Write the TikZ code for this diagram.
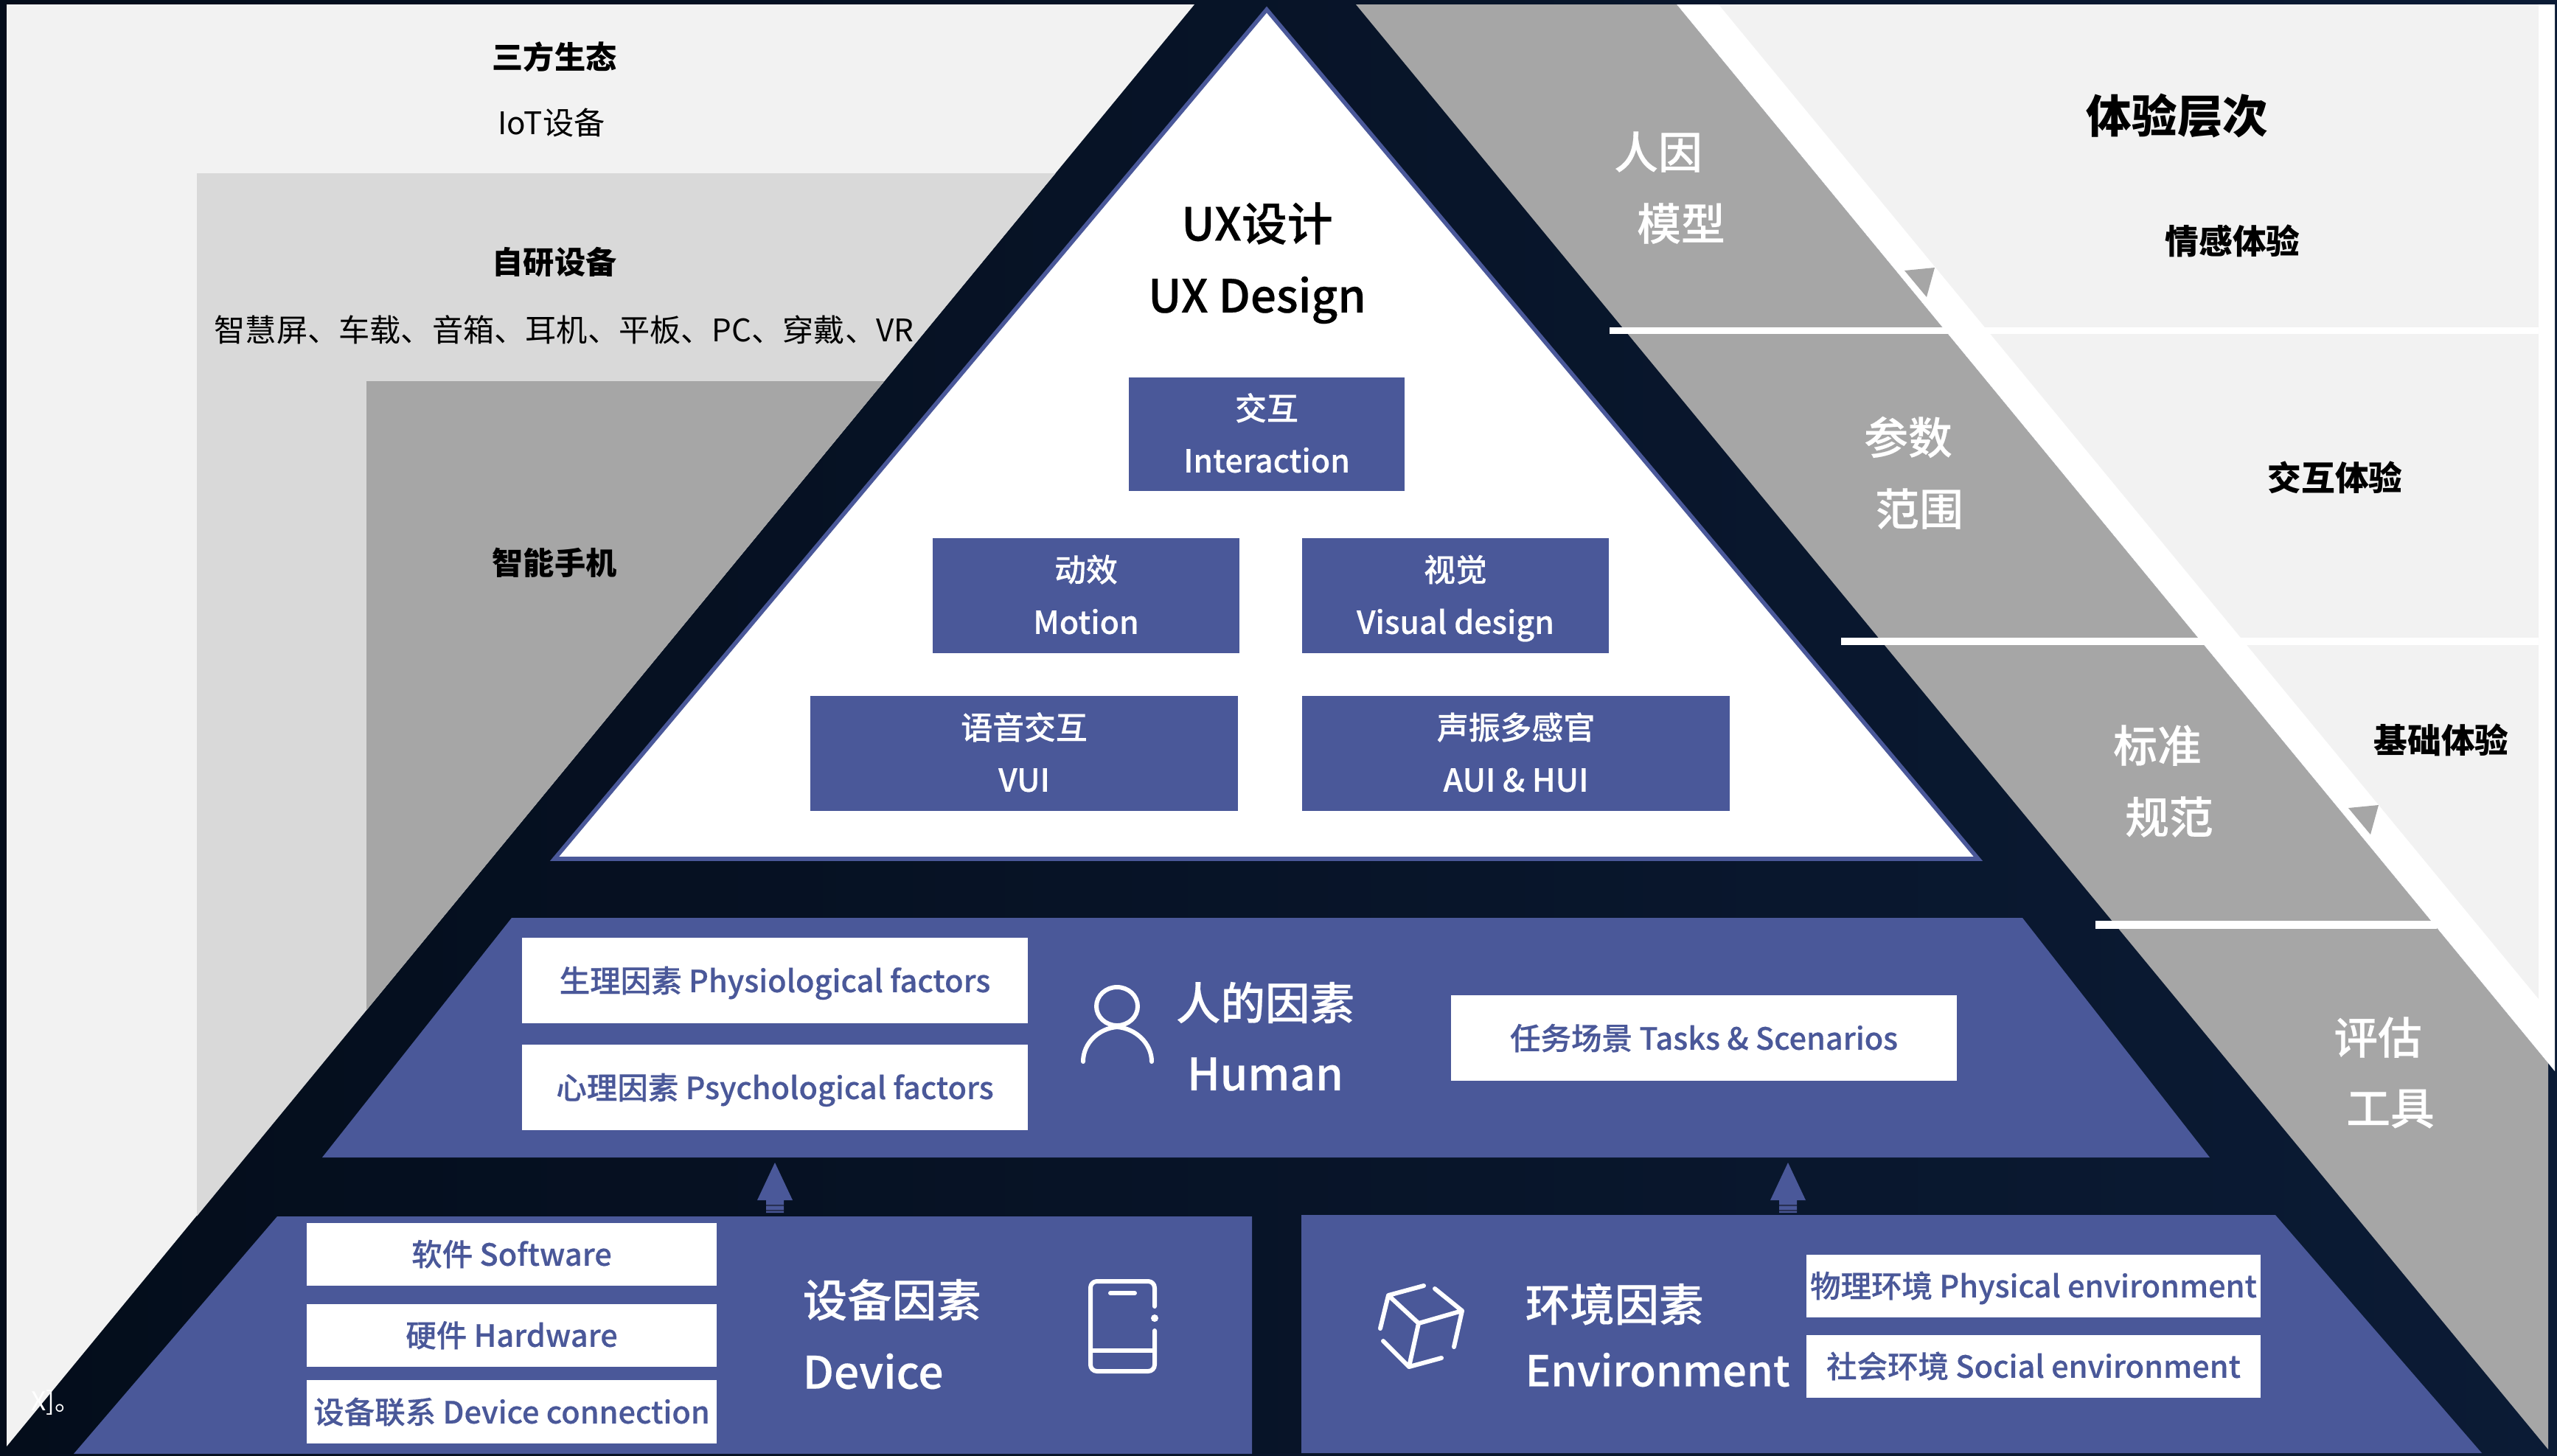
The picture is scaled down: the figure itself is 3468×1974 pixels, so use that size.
\documentclass[tikz,border=0pt]{standalone}
\usepackage{fontspec}
\setmainfont{Noto Sans CJK SC}
\newfontfamily\mediumfont{Noto Sans CJK SC}[UprightFont=* Medium, FakeBold=0.35]
\usetikzlibrary{
    calc
}
\definecolor{uxblue}{RGB}{74,88,153}
\definecolor{paneldark}{RGB}{166,166,166}
\definecolor{panelmid}{RGB}{217,217,217}
\definecolor{panellight}{RGB}{242,242,242}
\definecolor{navyleft}{RGB}{4,13,27}
\definecolor{navyright}{RGB}{11,27,53}
\newcommand{\twolines}[2]{\strut\raisebox{-0.6pt}{#1}\\\strut\raisebox{-0.6pt}{#2}}
\tikzset{
    % Box styles
    ux box/.style={
        fill=uxblue,
        text=white,
        rectangle,
        align=center,
        inner sep=0pt,
        font=\fontsize{12.2}{20.2}\selectfont\mediumfont
    },
    factor box/.style={
        fill=white,
        text=uxblue,
        rectangle,
        inner sep=0pt,
        text height=11pt,
        text depth=2pt,
        font=\fontsize{11.8}{15}\selectfont\mediumfont
    },
    % Text styles
    plain label/.style={
        inner sep=0pt,
        font=\fontsize{12}{15}\selectfont
    },
    bold label/.style={
        inner sep=0pt,
        font=\fontsize{12}{15}\selectfont\bfseries
    },
    level label/.style={
        inner sep=0pt,
        font=\fontsize{13}{15}\selectfont\bfseries
    },
    big label/.style={
        inner sep=0pt,
        text=white,
        font=\fontsize{17.2}{15}\selectfont\mediumfont
    },
    band label/.style={
        inner sep=0pt,
        text=white,
        font=\fontsize{17}{15}\selectfont\mediumfont
    },
    % Icon styles
    icon line/.style={
        draw=white,
        line width=1.7pt,
        line cap=round,
        line join=round
    },
    block arrow/.pic={
        \fill[uxblue] (0,-68) -- (24,-17) -- (12,-17) -- (12,0) -- (-12,0) -- (-12,-17) -- (-24,-17) -- cycle;
        \fill[black, opacity=0.45] (-12,-11) rectangle (12,-9) (-12,-4) rectangle (12,-2);
    },
    band arrow/.pic={
        \fill[paneldark] (0,0) -- (41,-4) -- (30,36) -- cycle;
        \draw[white, line width=0.3pt] (1,13) -- (18,32) (5,10) -- (22,28);
    }
}
\begin{document}
\begin{tikzpicture}[x=0.01cm, y=-0.01cm]
        \useasboundingbox (0,0) rectangle (3468,1974);
        % Panels
        \shade[left color=navyleft, right color=navyright] (0,0) rectangle (3468,1974);
        \fill[panellight] (9,6) -- (1620,6) -- (9,1962) -- cycle;
        \begin{scope}
            \clip (0,0) -- (1625,0) -- (0,1974) -- cycle;
            \fill[panelmid] (267,235) rectangle (1625,1974);
            \fill[paneldark] (497,517) rectangle (1625,1974);
        \end{scope}
        \fill[paneldark] (1839,6) -- (2274,6) -- (3456,1442) -- (3456,1966) -- cycle;
        \fill[white] (2274,6) -- (3465,6) -- (3465,1453) -- cycle;
        \fill[panellight] (2331,6) -- (3443,6) -- (3443,1355) -- cycle;
        \fill[white] (2183,444) rectangle (3443,453);
        \fill[white] (2497,865) rectangle (3443,875);
        \fill[white] (2842,1249) rectangle (3305,1260);

        % Triangle and trapezoids
        \draw[uxblue, line width=1.6pt, fill=white, line join=miter] (1718,13) -- (2683,1165) -- (752,1165) -- cycle;
        \fill[uxblue] (694,1245) -- (2743,1245) -- (2997,1570) -- (437,1570) -- cycle;
        \fill[uxblue] (376,1650) -- (1698,1650) -- (1698,1972) -- (100,1972) -- cycle;
        \fill[uxblue] (1765,1648) -- (3086,1648) -- (3366,1971) -- (1765,1971) -- cycle;

        % Boxes
        \node[ux box, minimum width=3.74cm, minimum height=1.54cm] (interaction) at (1718,589) {\twolines{交互}{Interaction}};
        \node[ux box, minimum width=4.16cm, minimum height=1.55cm] (motion) at (1473,808) {\twolines{动效}{Motion}};
        \node[ux box, minimum width=4.16cm, minimum height=1.55cm] (visual) at (1974,808) {\twolines{视觉}{Visual design}};
        \node[ux box, minimum width=5.79cm, minimum height=1.55cm] (vui) at (1389,1022) {\twolines{语音交互}{VUI}};
        \node[ux box, minimum width=5.8cm, minimum height=1.55cm] (aui) at (2056,1022) {\twolines{声振多感官}{AUI \& HUI}};
        \node[factor box, minimum width=6.86cm, minimum height=1.16cm] (physio) at (1051,1330) {生理因素 Physiological factors};
        \node[factor box, minimum width=6.86cm, minimum height=1.16cm] (psycho) at (1051,1475) {心理因素 Psychological factors};
        \node[factor box, minimum width=6.85cm, minimum height=1.16cm] (tasks) at (2311,1408) {任务场景 Tasks \& Scenarios};
        \node[factor box, minimum width=5.55cm, minimum height=0.85cm] (software) at (694,1701) {软件 Software};
        \node[factor box, minimum width=5.55cm, minimum height=0.85cm] (hardware) at (694,1811) {硬件 Hardware};
        \node[factor box, minimum width=5.55cm, minimum height=0.86cm] (connection) at (694,1915) {设备联系 Device connection};
        \node[factor box, minimum width=6.16cm, minimum height=0.85cm] (physical) at (2758,1744) {物理环境 Physical environment};
        \node[factor box, minimum width=6.16cm, minimum height=0.85cm] (social) at (2758,1853) {社会环境 Social environment};

        % Labels
        \node[bold label] (thirdparty) at (752,77) {三方生态};
        \node[plain label] (iot) at (748,166) {IoT设备};
        \node[bold label] (inhouse) at (752,356) {自研设备};
        \node[plain label] (devices) at (765,447) {智慧屏、车载、音箱、耳机、平板、PC、穿戴、VR};
        \node[bold label] (phone) at (752,763) {智能手机};
        \node[big label, text=black, font=\fontsize{17.6}{15}\selectfont\mediumfont] (uxcn) at (1705,303) {UX设计};
        \node[big label, text=black, font=\fontsize{17.6}{15}\selectfont\mediumfont] (uxen) at (1705,407) {UX Design};
        \node[big label] (humancn) at (1716,1360) {人的因素};
        \node[big label] (humanen) at (1716,1457) {Human};
        \node[big label, anchor=west] (devicecn) at (1088,1763) {设备因素};
        \node[big label, anchor=west] (deviceen) at (1088,1860) {Device};
        \node[big label, anchor=west] (envcn) at (2068,1769) {环境因素};
        \node[big label, anchor=west, font=\fontsize{16.4}{15}\selectfont\mediumfont] (enven) at (2068,1858) {Environment};
        \node[band label] (modelcn) at (2249,206) {人因};
        \node[band label] (modelen) at (2280,303) {模型};
        \node[band label] (paramcn) at (2588,593) {参数};
        \node[band label] (paramen) at (2603,690) {范围};
        \node[band label] (stdcn) at (2926,1011) {标准};
        \node[band label] (stden) at (2942,1108) {规范};
        \node[band label] (evalcn) at (3225,1407) {评估};
        \node[band label] (evalen) at (3242,1504) {工具};
        \node[big label, text=black, font=\fontsize{17.5}{15}\selectfont\bfseries] (levels) at (2953,157) {体验层次};
        \node[level label] (emotion) at (3028,327) {情感体验};
        \node[level label] (interact) at (3167,648) {交互体验};
        \node[level label] (basic) at (3311,1004) {基础体验};
        \node[plain label, text=white, anchor=east, font=\fontsize{10}{10}\selectfont] (note) at (110,1903) {X]。};

        % Arrows
        \pic at (1051,1645) {block arrow};
        \pic at (2425,1645) {block arrow};
        \pic at (2583,367) {band arrow};
        \pic at (3185,1096) {band arrow};

        % Icons
        \draw[icon line] (1515,1365) ellipse (28 and 26);
        \draw[icon line] (1469,1440) .. controls (1469,1415) and (1490,1395) .. (1515,1393) .. controls (1540,1395) and (1562,1415) .. (1562,1440);
        \draw[icon line, rounded corners=2.5pt] (1566,1772) -- (1566,1738) -- (1479,1738) -- (1479,1860) -- (1566,1860) -- (1566,1805);
        \draw[icon line] (1479,1832) -- (1566,1832) (1506,1754) -- (1539,1754);
        \fill[white] (1566,1788) circle (5);
        \draw[icon line] (1931,1744) -- (1883,1757) -- (1872,1802) (1883,1757) -- (1924,1795) -- (1983,1778) (1924,1795) -- (1911,1854) -- (1876,1819) (1946,1748) -- (1983,1778) -- (1972,1827) (1911,1854) -- (1955,1842);
    \end{tikzpicture}
\end{document}
